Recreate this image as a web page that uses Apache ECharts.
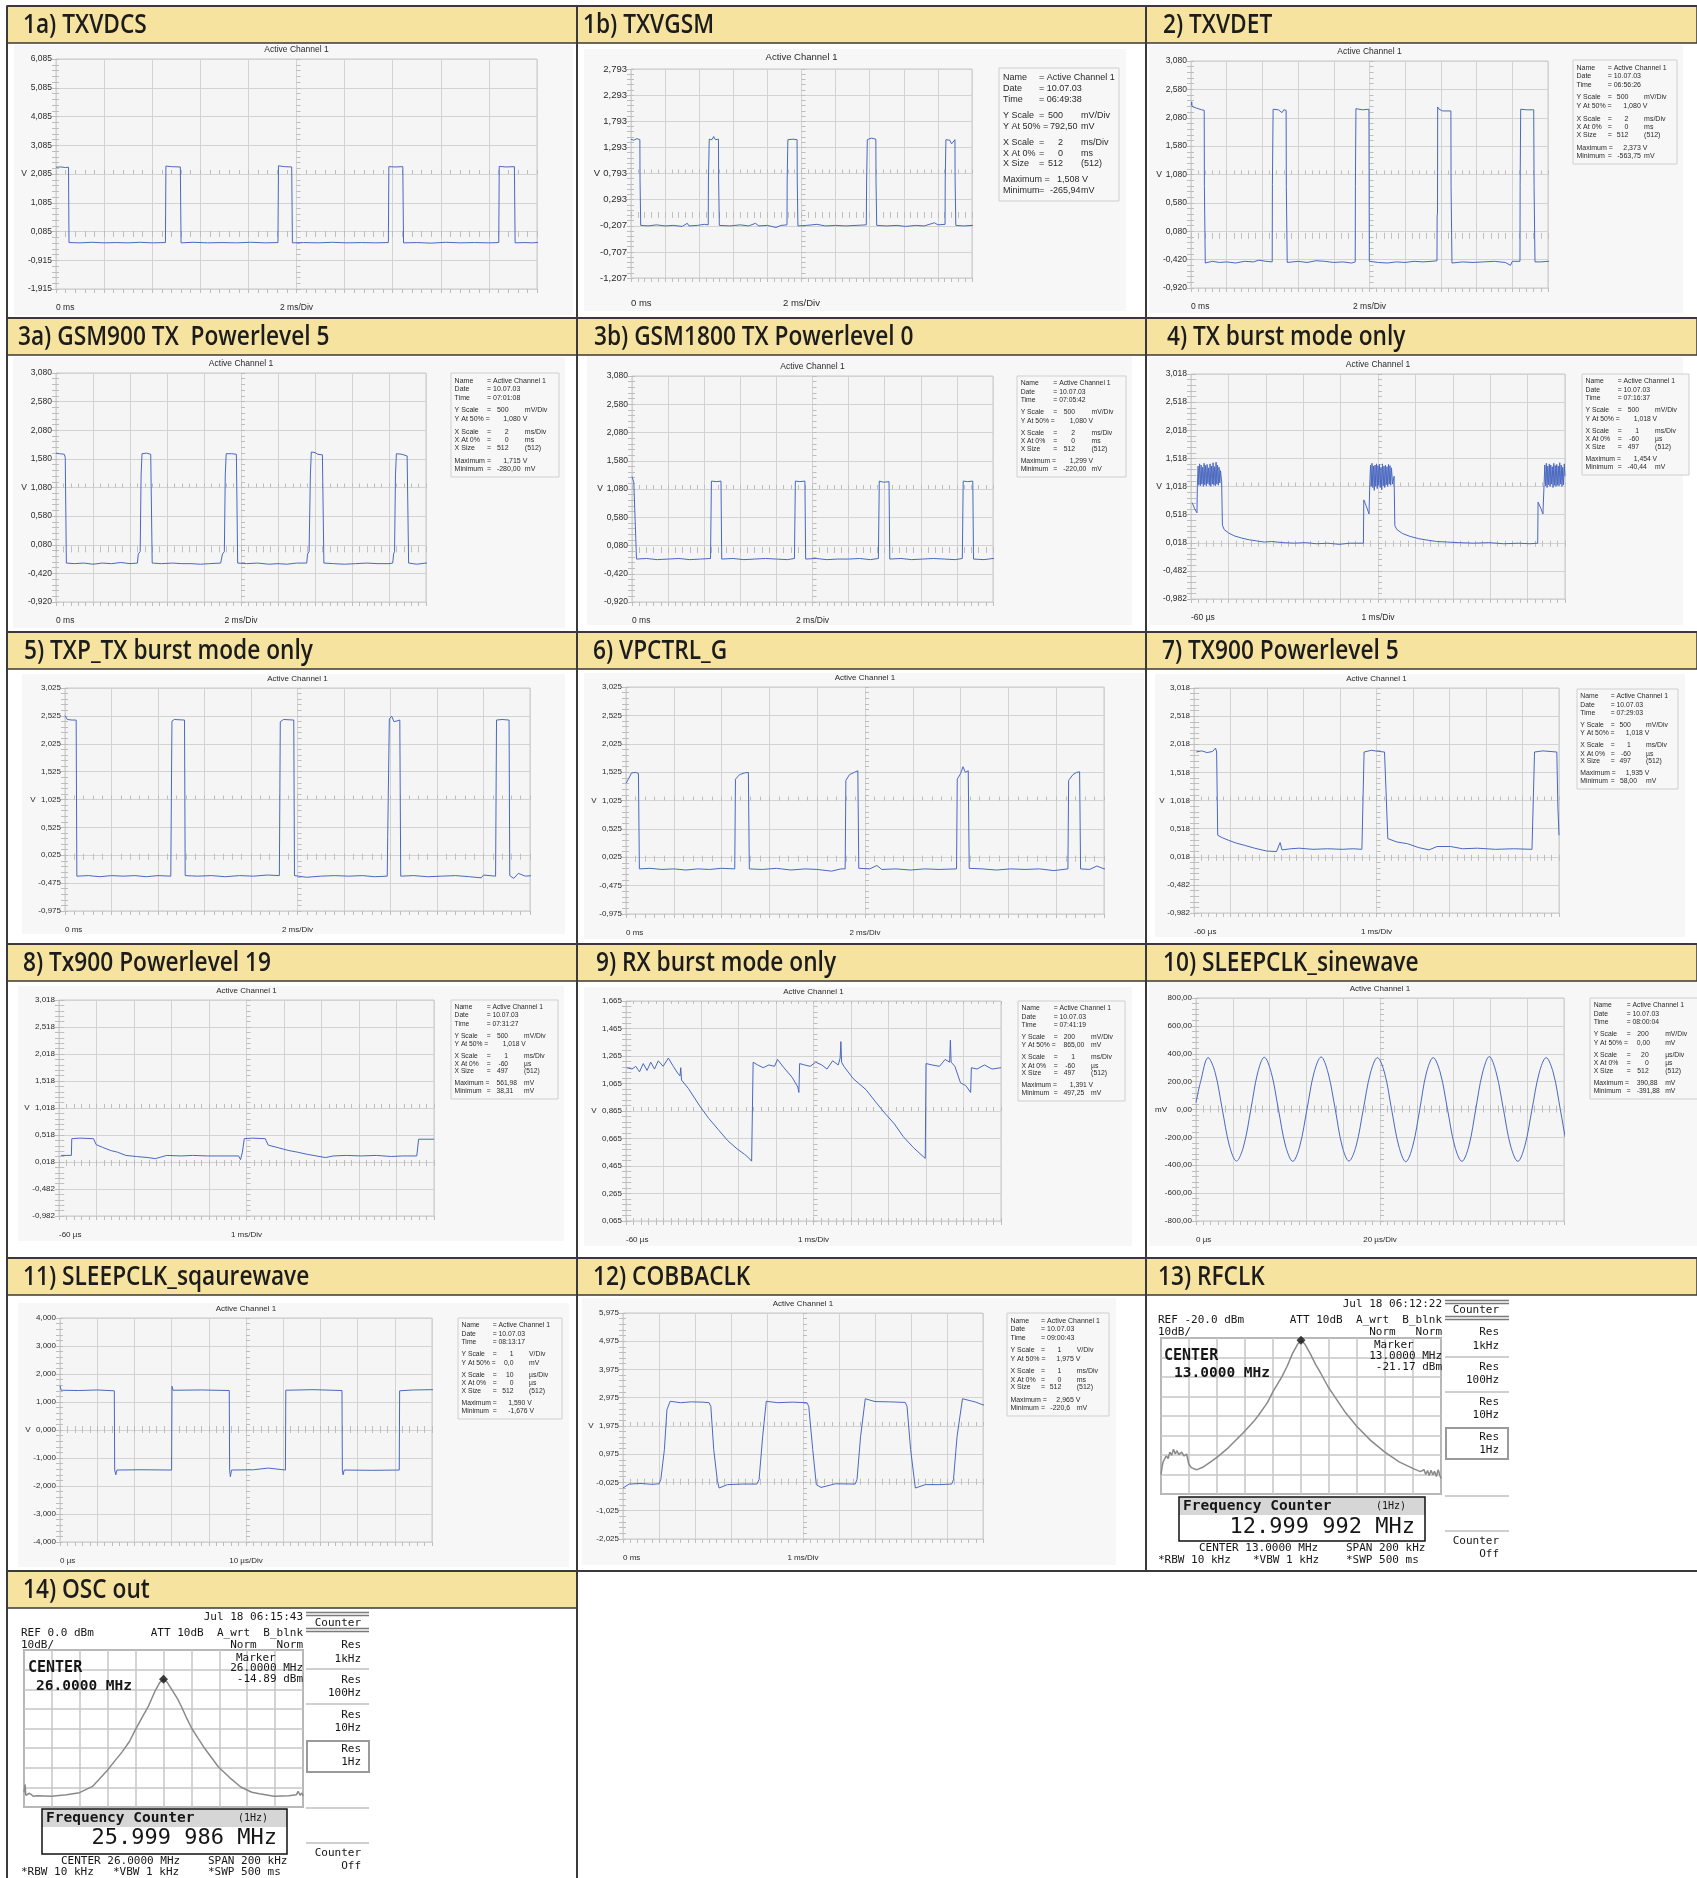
<!DOCTYPE html>
<html>
<head>
<meta charset="utf-8">
<title>Signal measurements</title>
<script src="https://cdn.jsdelivr.net/npm/echarts@6/dist/echarts.min.js"></script>
<style>
  html, body { margin: 0; padding: 0; background: #fff; }
  #chart { width: 1697px; height: 1878px; }
</style>
</head>
<body>
<div id="chart"></div>
<script>
// ---------------- y tick labels ----------------
const yTicks1a = ['-1,915','-0,915','0,085','1,085','2,085','3,085','4,085','5,085','6,085'];
const yTicks1b = ['-1,207','-0,707','-0,207','0,293','0,793','1,293','1,793','2,293','2,793'];
const yTicks080 = ['-0,920','-0,420','0,080','0,580','1,080','1,580','2,080','2,580','3,080'];
const yTicks018 = ['-0,982','-0,482','0,018','0,518','1,018','1,518','2,018','2,518','3,018'];
const yTicks025 = ['-0,975','-0,475','0,025','0,525','1,025','1,525','2,025','2,525','3,025'];
const yTicks9 = ['0,065','0,265','0,465','0,665','0,865','1,065','1,265','1,465','1,665'];
const yTicks10 = ['-800,00','-600,00','-400,00','-200,00','0,00','200,00','400,00','600,00','800,00'];
const yTicks11 = ['-4,000','-3,000','-2,000','-1,000','0,000','1,000','2,000','3,000','4,000'];
const yTicks12 = ['-2,025','-1,025','-0,025','0,975','1,975','2,975','3,975','4,975','5,975'];

// ---------------- info box values ----------------
// time, yScale, unit, yAt50, unit, xScale, unit, xAt0, unit, xSize, (size), max, unit, min, unit
const info1b = ['06:49:38','500','mV/Div','792,50','mV','2','ms/Div','0','ms','512','(512)','1,508 V','','-265,94','mV'];
const info2  = ['06:56:26','500','mV/Div','1,080 V','','2','ms/Div','0','ms','512','(512)','2,373 V','','-563,75','mV'];
const info3a = ['07:01:08','500','mV/Div','1,080 V','','2','ms/Div','0','ms','512','(512)','1,715 V','','-280,00','mV'];
const info3b = ['07:05:42','500','mV/Div','1,080 V','','2','ms/Div','0','ms','512','(512)','1,299 V','','-220,00','mV'];
const info4  = ['07:16:37','500','mV/Div','1,018 V','','1','ms/Div','-60','µs','497','(512)','1,454 V','','-40,44','mV'];
const info7  = ['07:29:03','500','mV/Div','1,018 V','','1','ms/Div','-60','µs','497','(512)','1,935 V','','58,00','mV'];
const info8  = ['07:31:27','500','mV/Div','1,018 V','','1','ms/Div','-60','µs','497','(512)','561,98','mV','38,31','mV'];
const info9  = ['07:41:19','200','mV/Div','865,00','mV','1','ms/Div','-60','µs','497','(512)','1,391 V','','497,25','mV'];
const info10 = ['08:00:04','200','mV/Div','0,00','mV','20','µs/Div','0','µs','512','(512)','390,88','mV','-391,88','mV'];
const info11 = ['08:13:17','1','V/Div','0,0','mV','10','µs/Div','0','µs','512','(512)','1,590 V','','-1,676 V',''];
const info12 = ['09:00:43','1','V/Div','1,975 V','','1','ms/Div','0','ms','512','(512)','2,965 V','','-220,6','mV'];

// ---------------- traces [time, value] ----------------
const txvdcsTrace = [[0,2.32],[0.2,2.33],[0.4,2.31],[0.52,2.32],[0.54,-0.30],[1.0,-0.31],[1.5,-0.29],[2.0,-0.31],[2.5,-0.30],[3.0,-0.31],[3.5,-0.29],[4.0,-0.31],[4.55,-0.30],[4.57,2.36],[4.8,2.34],[5.17,2.33],[5.20,-0.31],[5.7,-0.29],[6.3,-0.31],[6.9,-0.30],[7.5,-0.31],[8.1,-0.29],[8.7,-0.31],[9.23,-0.30],[9.25,2.37],[9.5,2.34],[9.80,2.33],[9.83,-0.31],[10.3,-0.30],[10.9,-0.31],[11.5,-0.29],[12.1,-0.31],[12.7,-0.30],[13.3,-0.31],[13.82,-0.30],[13.84,2.34],[14.1,2.33],[14.42,2.34],[14.45,-0.31],[15.0,-0.30],[15.6,-0.32],[16.2,-0.29],[16.8,-0.31],[17.4,-0.30],[18.0,-0.31],[18.41,-0.30],[18.43,2.35],[18.7,2.33],[19.06,2.34],[19.09,-0.31],[19.5,-0.30],[19.8,-0.31],[20.1,-0.29],[20.5,-0.31]];

const txvgsmTrace = [[0,1.45],[0.15,1.43],[0.35,1.46],[0.52,1.44],[0.53,0.67],[0.56,0.66],[0.57,-0.20],[1.0,-0.21],[1.5,-0.19],[2.0,-0.21],[2.5,-0.20],[3.0,-0.22],[3.3,-0.16],[3.4,-0.21],[3.9,-0.20],[4.3,-0.18],[4.53,-0.19],[4.54,0.67],[4.58,0.68],[4.59,1.45],[4.75,1.44],[4.85,1.50],[4.95,1.44],[5.13,1.45],[5.14,0.67],[5.17,0.66],[5.18,-0.20],[5.8,-0.21],[6.4,-0.19],[6.9,-0.21],[7.3,-0.16],[7.5,-0.21],[8.0,-0.20],[8.5,-0.24],[8.8,-0.20],[9.15,-0.19],[9.16,0.67],[9.19,0.68],[9.20,1.44],[9.5,1.45],[9.74,1.44],[9.75,0.67],[9.78,0.66],[9.79,-0.21],[10.3,-0.20],[10.9,-0.18],[11.4,-0.21],[12.0,-0.20],[12.6,-0.21],[13.2,-0.20],[13.8,-0.19],[13.82,0.67],[13.85,0.68],[13.86,1.44],[14.1,1.47],[14.36,1.45],[14.37,0.67],[14.40,0.66],[14.41,-0.20],[15.0,-0.21],[15.6,-0.20],[16.1,-0.22],[16.7,-0.20],[17.2,-0.21],[17.8,-0.15],[18.0,-0.19],[18.42,-0.18],[18.43,0.67],[18.46,0.68],[18.47,1.44],[18.7,1.43],[18.8,1.36],[19.0,1.44],[19.01,0.67],[19.04,0.66],[19.05,-0.20],[19.5,-0.21],[20.0,-0.20],[20.43,-0.22]];

const txvdetTrace = [[0.02,2.30],[0.04,2.36],[0.06,2.28],[0.3,2.25],[0.6,2.22],[0.74,2.21],[0.75,0.87],[0.78,0.85],[0.80,-0.48],[1.2,-0.45],[1.6,-0.47],[2.0,-0.46],[2.5,-0.48],[3.0,-0.45],[3.5,-0.46],[3.8,-0.43],[4.2,-0.45],[4.55,-0.46],[4.56,0.90],[4.58,0.92],[4.60,2.23],[4.9,2.22],[5.1,2.17],[5.2,2.22],[5.33,2.21],[5.34,0.87],[5.37,0.86],[5.39,-0.47],[6.0,-0.45],[6.5,-0.47],[7.0,-0.44],[7.5,-0.45],[8.0,-0.47],[8.5,-0.46],[9.0,-0.48],[9.20,-0.46],[9.21,0.87],[9.23,0.88],[9.24,2.24],[9.6,2.22],[9.97,2.23],[9.99,-0.45],[10.5,-0.47],[11.0,-0.48],[11.5,-0.46],[12.0,-0.47],[12.5,-0.45],[13.0,-0.46],[13.5,-0.45],[13.78,-0.44],[13.79,0.35],[13.81,0.40],[13.82,2.27],[13.9,2.23],[14.1,2.20],[14.56,2.20],[14.57,0.87],[14.6,0.86],[14.62,-0.48],[15.2,-0.46],[15.8,-0.47],[16.4,-0.46],[17.0,-0.45],[17.6,-0.47],[17.9,-0.52],[18.0,-0.45],[18.43,-0.45],[18.44,0.90],[18.46,0.92],[18.47,2.23],[18.8,2.22],[19.2,2.22],[19.22,0.87],[19.25,0.86],[19.27,-0.46],[19.6,-0.46],[20.0,-0.45],[20.44,-0.44]];

const gsm900Trace = [[0,1.68],[0.2,1.67],[0.45,1.66],[0.5,1.6],[0.56,-0.24],[1.0,-0.25],[1.5,-0.24],[2.0,-0.26],[2.5,-0.24],[3.0,-0.25],[3.5,-0.23],[4.0,-0.25],[4.4,-0.24],[4.45,-0.08],[4.55,-0.04],[4.6,1.3],[4.65,1.67],[4.9,1.68],[5.12,1.66],[5.2,-0.24],[5.7,-0.25],[6.3,-0.24],[6.8,-0.25],[7.3,-0.25],[7.8,-0.26],[8.3,-0.25],[8.9,-0.24],[9.0,-0.08],[9.1,-0.04],[9.15,1.30],[9.2,1.67],[9.5,1.67],[9.75,1.66],[9.82,-0.24],[10.3,-0.25],[10.9,-0.24],[11.5,-0.26],[12.0,-0.25],[12.5,-0.26],[13.0,-0.24],[13.55,-0.24],[13.6,-0.08],[13.68,-0.04],[13.75,1.3],[13.8,1.70],[14.0,1.69],[14.15,1.66],[14.4,1.65],[14.48,-0.24],[15.0,-0.25],[15.6,-0.26],[16.2,-0.25],[16.8,-0.24],[17.4,-0.25],[18.0,-0.25],[18.2,-0.24],[18.25,-0.08],[18.3,-0.04],[18.35,1.3],[18.4,1.67],[18.7,1.66],[18.98,1.63],[19.06,-0.24],[19.5,-0.26],[20.0,-0.24],[20.44,-0.23]];

const gsm1800Trace = [[0,1.30],[0.1,1.2],[0.2,1.22],[0.25,-0.16],[0.8,-0.15],[1.4,-0.17],[2.0,-0.16],[2.6,-0.15],[3.2,-0.17],[3.8,-0.16],[4.35,-0.15],[4.4,1.22],[4.7,1.21],[4.93,1.22],[4.97,-0.16],[5.6,-0.15],[6.2,-0.17],[6.8,-0.16],[7.4,-0.15],[8.0,-0.16],[8.6,-0.17],[9.0,-0.15],[9.05,1.22],[9.3,1.21],[9.58,1.22],[9.62,-0.16],[10.2,-0.15],[10.8,-0.17],[11.4,-0.16],[12.0,-0.16],[12.6,-0.15],[13.2,-0.17],[13.65,-0.15],[13.7,1.22],[13.95,1.20],[14.24,1.21],[14.28,-0.16],[14.9,-0.15],[15.5,-0.17],[16.1,-0.16],[16.7,-0.15],[17.3,-0.16],[17.9,-0.17],[18.3,-0.15],[18.35,1.22],[18.6,1.21],[18.88,1.22],[18.92,-0.16],[19.5,-0.17],[20.0,-0.15],[20.4,-0.16]];

const txBurstTrace = [[-0.03,0.73],[0.04,0.62],[0.10,0.55],[0.11,1.02],[0.13,1.38],[0.15,1.05],[0.17,1.42],[0.19,1.03],[0.21,1.40],[0.23,1.06],[0.25,1.36],[0.27,1.02],[0.29,1.43],[0.31,1.05],[0.33,1.39],[0.35,1.03],[0.37,1.41],[0.39,1.07],[0.41,1.35],[0.43,1.04],[0.45,1.42],[0.47,1.02],[0.49,1.38],[0.51,1.06],[0.53,1.44],[0.55,1.05],[0.57,1.37],[0.59,1.03],[0.61,1.45],[0.63,1.06],[0.65,1.40],[0.67,1.04],[0.69,1.36],[0.71,1.08],[0.73,1.30],[0.76,1.10],[0.78,0.33],[0.83,0.25],[0.95,0.19],[1.1,0.14],[1.3,0.10],[1.5,0.07],[1.7,0.05],[1.9,0.03],[2.1,0.04],[2.4,0.02],[2.7,0.01],[3.0,0.02],[3.3,0.00],[3.6,0.01],[3.9,-0.01],[4.2,0.01],[4.55,0.01],[4.56,0.78],[4.62,0.68],[4.70,0.53],[4.72,1.05],[4.74,1.40],[4.76,1.02],[4.78,1.43],[4.80,1.00],[4.82,1.38],[4.84,0.95],[4.86,1.40],[4.88,1.02],[4.90,1.42],[4.92,0.98],[4.94,1.39],[4.96,1.04],[4.98,1.41],[5.00,1.00],[5.02,1.36],[5.04,0.96],[5.06,1.42],[5.08,1.03],[5.10,1.38],[5.12,1.00],[5.14,1.40],[5.16,1.05],[5.18,1.37],[5.20,1.02],[5.22,1.41],[5.24,1.06],[5.26,1.39],[5.28,1.04],[5.30,1.35],[5.33,1.06],[5.37,1.20],[5.39,0.32],[5.45,0.25],[5.6,0.18],[5.8,0.13],[6.03,0.09],[6.3,0.06],[6.51,0.04],[6.8,0.03],[7.1,0.02],[7.5,0.01],[7.9,0.02],[8.3,0.00],[8.7,0.01],[9.0,0.00],[9.21,0.01],[9.22,0.74],[9.3,0.62],[9.35,0.53],[9.38,1.05],[9.40,1.40],[9.42,1.03],[9.44,1.43],[9.46,1.00],[9.48,1.38],[9.50,1.05],[9.52,1.42],[9.54,1.02],[9.56,1.40],[9.58,1.06],[9.60,1.37],[9.62,1.00],[9.64,1.43],[9.66,1.04],[9.68,1.39],[9.70,1.02],[9.72,1.41],[9.74,1.05],[9.76,1.38],[9.78,1.03],[9.80,1.44],[9.82,1.06],[9.84,1.40],[9.86,1.02],[9.88,1.36],[9.90,1.05],[9.92,1.42],[9.94,1.20]];

const txpTrace = [[0,2.53],[0.1,2.46],[0.3,2.45],[0.48,2.45],[0.51,-0.35],[1.0,-0.34],[1.5,-0.36],[2.0,-0.34],[2.5,-0.35],[3.0,-0.34],[3.5,-0.36],[4.0,-0.34],[4.55,-0.35],[4.6,2.43],[4.7,2.46],[5.14,2.45],[5.17,-0.34],[5.7,-0.35],[6.3,-0.34],[6.9,-0.36],[7.5,-0.34],[8.1,-0.35],[8.7,-0.33],[9.22,-0.34],[9.26,2.42],[9.4,2.46],[9.84,2.45],[9.87,-0.34],[10.4,-0.37],[11.0,-0.35],[11.6,-0.34],[12.2,-0.35],[12.8,-0.34],[13.3,-0.36],[13.86,-0.35],[13.88,0.36],[13.93,0.36],[13.95,2.47],[14.05,2.52],[14.15,2.42],[14.40,2.45],[14.42,1.05],[14.44,-0.35],[15.0,-0.34],[15.6,-0.36],[16.2,-0.35],[16.8,-0.34],[17.4,-0.36],[17.9,-0.38],[18.0,-0.33],[18.52,-0.35],[18.56,2.45],[18.8,2.46],[19.1,2.45],[19.13,-0.34],[19.3,-0.39],[19.5,-0.30],[19.8,-0.35],[20.1,-0.34],[20.47,-0.35]];

const vpctrlTrace = [[0,1.33],[0.1,1.40],[0.23,1.51],[0.41,1.52],[0.52,1.50],[0.56,-0.18],[1.0,-0.17],[1.5,-0.19],[2.0,-0.18],[2.5,-0.20],[3.0,-0.18],[3.5,-0.19],[4.0,-0.17],[4.55,-0.18],[4.58,1.40],[4.75,1.48],[4.95,1.51],[5.12,1.52],[5.16,-0.18],[5.7,-0.19],[6.3,-0.17],[6.9,-0.20],[7.5,-0.18],[8.0,-0.19],[8.6,-0.22],[9.0,-0.18],[9.17,-0.18],[9.2,1.38],[9.35,1.48],[9.55,1.52],[9.7,1.55],[9.74,-0.17],[10.2,-0.18],[10.5,-0.12],[10.7,-0.19],[11.3,-0.18],[11.9,-0.20],[12.5,-0.18],[13.1,-0.19],[13.83,-0.18],[13.86,1.40],[14.0,1.50],[14.1,1.62],[14.2,1.52],[14.32,1.55],[14.36,-0.17],[14.9,-0.18],[15.5,-0.20],[16.1,-0.18],[16.7,-0.19],[17.3,-0.18],[17.9,-0.21],[18.49,-0.18],[18.52,1.38],[18.7,1.48],[18.85,1.52],[18.98,1.53],[19.02,-0.18],[19.4,-0.19],[19.7,-0.13],[20.0,-0.18],[20.3,-0.17],[20.45,-0.10]];

const tx900p5Trace = [[0.0,1.88],[0.15,1.90],[0.3,1.87],[0.45,1.89],[0.50,1.88],[0.53,1.95],[0.56,1.88],[0.59,0.40],[0.7,0.36],[0.89,0.31],[1.1,0.26],[1.33,0.22],[1.6,0.17],[1.93,0.12],[2.2,0.11],[2.3,0.27],[2.35,0.14],[2.6,0.16],[2.82,0.17],[3.2,0.15],[3.6,0.16],[4.0,0.15],[4.3,0.16],[4.54,0.15],[4.60,1.88],[4.8,1.91],[5.0,1.89],[5.16,1.88],[5.20,1.20],[5.25,0.34],[5.5,0.28],[5.79,0.25],[6.1,0.18],[6.38,0.14],[6.6,0.20],[6.97,0.20],[7.3,0.16],[7.7,0.17],[8.2,0.15],[8.7,0.16],[9.2,0.15],[9.27,1.88],[9.5,1.90],[9.88,1.88],[9.91,0.9],[9.94,0.40]];

const tx900p19Trace = [[-0.01,0.14],[0.27,0.14],[0.28,0.45],[0.5,0.46],[0.86,0.45],[0.93,0.34],[1.1,0.29],[1.32,0.23],[1.5,0.2],[1.72,0.14],[2.0,0.12],[2.31,0.10],[2.51,0.08],[2.81,0.14],[3.2,0.13],[3.5,0.14],[3.9,0.13],[4.2,0.13],[4.73,0.13],[4.78,0.06],[4.83,0.2],[4.88,0.45],[5.1,0.46],[5.44,0.45],[5.52,0.33],[5.8,0.28],[6.07,0.23],[6.3,0.20],[6.56,0.16],[7.05,0.10],[7.25,0.13],[7.6,0.14],[8.0,0.13],[8.4,0.14],[8.8,0.12],[9.1,0.13],[9.48,0.13],[9.53,0.44],[9.94,0.44]];

const rxBurstTrace = [[-0.04,1.18],[0.1,1.17],[0.2,1.19],[0.3,1.15],[0.4,1.21],[0.5,1.16],[0.6,1.22],[0.7,1.17],[0.8,1.23],[0.93,1.19],[1.07,1.25],[1.2,1.19],[1.32,1.14],[1.38,1.12],[1.40,1.18],[1.42,1.09],[1.6,1.03],[1.91,0.90],[2.15,0.81],[2.40,0.73],[2.65,0.65],[2.90,0.59],[3.1,0.55],[3.19,0.53],[3.29,0.50],[3.32,0.50],[3.33,1.22],[3.45,1.20],[3.6,1.18],[3.75,1.20],[3.9,1.19],[3.98,1.24],[4.15,1.18],[4.37,1.11],[4.52,1.04],[4.55,1.00],[4.57,1.21],[4.7,1.20],[4.85,1.19],[5.0,1.22],[5.16,1.20],[5.3,1.17],[5.45,1.23],[5.6,1.20],[5.65,1.25],[5.67,1.37],[5.69,1.22],[5.75,1.19],[6.0,1.10],[6.34,1.02],[6.6,0.93],[6.84,0.85],[7.1,0.77],[7.33,0.68],[7.6,0.60],[7.92,0.52],[7.94,1.21],[8.1,1.20],[8.3,1.19],[8.45,1.24],[8.57,1.22],[8.59,1.38],[8.61,1.22],[8.71,1.19],[8.86,1.07],[9.0,1.05],[9.13,1.00],[9.15,1.18],[9.3,1.17],[9.5,1.20],[9.7,1.17],[9.94,1.18]];

const sleepSineTrace = [[0,50],[2.5,200],[6.6,372],[10.4,265],[14.3,0],[18.2,-262],[22.0,-370],[25.9,-262],[29.8,0],[33.5,262],[37.1,375],[40.9,265],[44.8,0],[48.7,-262],[52.6,-372],[56.4,-262],[60.3,0],[64.1,262],[68.0,377],[71.8,262],[75.7,0],[79.4,-262],[83.1,-370],[87.0,-262],[90.9,0],[94.8,262],[98.6,372],[102.5,262],[106.3,0],[110.2,-262],[114.0,-375],[117.8,-262],[121.6,0],[125.2,262],[128.9,372],[132.8,262],[136.7,0],[140.6,-262],[144.5,-372],[148.3,-262],[152.0,0],[155.7,262],[159.4,380],[163.2,262],[167.1,0],[171.0,-262],[174.9,-372],[178.7,-262],[182.6,0],[186.5,262],[190.3,372],[194.2,262],[198.0,0],[201.5,-250],[204.2,-355]];

const sleepSquareTrace = [[0,1.59],[0.3,1.42],[5,1.41],[10,1.43],[14.6,1.40],[14.7,-1.43],[15.0,-1.60],[15.3,-1.43],[22,-1.42],[30.0,-1.43],[30.1,1.56],[30.4,1.42],[38,1.43],[45.5,1.41],[45.6,-1.43],[45.8,-1.67],[46.1,-1.43],[52,-1.42],[56,-1.36],[56.3,-1.43],[60.6,-1.43],[60.7,1.42],[68,1.44],[75.8,1.41],[75.9,-1.43],[76.1,-1.60],[76.4,-1.43],[84,-1.44],[91.2,-1.43],[91.3,1.40],[95,1.43],[100,1.44],[102,1.42]];

const cobbaTrace = [[0,-0.22],[0.17,-0.08],[0.5,-0.06],[0.8,-0.09],[1.0,-0.07],[1.05,0.08],[1.15,1.14],[1.22,2.55],[1.31,2.85],[1.6,2.80],[1.9,2.83],[2.2,2.82],[2.39,2.80],[2.44,2.67],[2.52,1.14],[2.62,0.05],[2.67,-0.22],[2.9,-0.10],[3.3,-0.08],[3.72,-0.08],[3.78,0.08],[3.88,1.61],[3.98,2.85],[4.3,2.80],[4.7,2.82],[5.11,2.80],[5.16,2.67],[5.27,1.14],[5.37,-0.10],[5.5,-0.20],[5.9,-0.07],[6.45,-0.08],[6.50,0.08],[6.60,1.61],[6.73,2.94],[7.0,2.84],[7.4,2.83],[7.84,2.81],[7.89,2.67],[7.99,1.14],[8.12,-0.22],[8.4,-0.10],[8.8,-0.10],[9.13,-0.08],[9.18,0.08],[9.28,1.61],[9.43,2.94],[9.8,2.82],[10.0,2.72],[10.21,2.79]];

// spectrum analyser traces [MHz, dBm]
const rfclkTrace = [[12.9,-90.1],[12.9008,-86],[12.9015,-83.5],[12.9025,-84.5],[12.9038,-80.5],[12.9051,-81.8],[12.9063,-78.5],[12.9076,-80.2],[12.9089,-77],[12.9102,-79.5],[12.9114,-77.8],[12.9127,-79.8],[12.9147,-78.5],[12.9165,-80.5],[12.9183,-79.5],[12.9198,-84.5],[12.9216,-86.5],[12.9254,-87.6],[12.9305,-86],[12.9355,-83.5],[12.9406,-80.8],[12.9482,-76.2],[12.9584,-68.8],[12.966,-63],[12.9698,-59.5],[12.9761,-53],[12.9799,-47.6],[12.9863,-39.9],[12.9901,-34.5],[12.9939,-28],[12.9977,-23],[13.0003,-21.2],[13.0028,-23.2],[13.0066,-28],[13.0104,-33.5],[13.0142,-38.2],[13.0193,-45],[13.0231,-49],[13.032,-58.5],[13.0401,-65.5],[13.0497,-72.5],[13.0599,-78.5],[13.0701,-83.5],[13.0802,-87],[13.0853,-88.5],[13.0878,-87.5],[13.0891,-90],[13.0904,-88],[13.0916,-90.5],[13.0929,-87.8],[13.0942,-90.2],[13.0954,-88.3],[13.0967,-91],[13.098,-87.5],[13.0992,-90.5],[13.1,-92]];
const rfclkPeak = [[13.0, -21.17]];

const oscTrace = [[25.9,-72.5],[25.9008,-68.5],[25.9013,-74],[25.904,-73],[25.9066,-74.5],[25.9093,-74.3],[25.9199,-74.5],[25.9305,-73.8],[25.9398,-72.7],[25.9491,-69.5],[25.9598,-61.3],[25.9651,-56.5],[25.9704,-51.9],[25.9757,-46.5],[25.9797,-40.8],[25.985,-34],[25.989,-28.9],[25.9943,-20.4],[25.9974,-16.5],[26.0001,-14.9],[26.0027,-16.5],[26.0062,-20.4],[26.0102,-25],[26.0129,-28.9],[26.0168,-35],[26.0203,-40],[26.0248,-45],[26.0288,-49.4],[26.0341,-54.5],[26.0394,-59.6],[26.0474,-65],[26.0554,-69.8],[26.0633,-72.5],[26.0687,-73.2],[26.0793,-74.5],[26.0899,-74.3],[26.0952,-73.8],[26.0965,-72],[26.0979,-74],[26.0992,-72.8],[26.1,-74.5]];
const oscPeak = [[26.0, -14.89]];

// ---------------- page layout ----------------
const COLS = [7, 577, 1146, 1697];
const ROWS = [6, 318, 632, 944, 1258, 1571, 1878];
const HEAD_H = 37;
const HEAD_FILL = '#f6e39f';
const LINE_C = '#3a3a3a';
const GRID_C = '#d3d3d3';
const TICK_C = '#bdbdbd';
const TRACE_C = '#4a68c0';
const SCOPE_FONT = '"Liberation Sans", Arial, sans-serif';
const MONO_FONT = '"DejaVu Sans Mono", "Liberation Mono", monospace';

const headers = [
  ['1a) TXVDCS', 0, 0, 23], ['1b) TXVGSM', 1, 0, 583], ['2) TXVDET', 2, 0, 1163],
  ['3a) GSM900 TX  Powerlevel 5', 0, 1, 18], ['3b) GSM1800 TX Powerlevel 0', 1, 1, 594], ['4) TX burst mode only', 2, 1, 1167],
  ['5) TXP_TX burst mode only', 0, 2, 24], ['6) VPCTRL_G', 1, 2, 593], ['7) TX900 Powerlevel 5', 2, 2, 1162],
  ['8) Tx900 Powerlevel 19', 0, 3, 23], ['9) RX burst mode only', 1, 3, 596], ['10) SLEEPCLK_sinewave', 2, 3, 1163],
  ['11) SLEEPCLK_sqaurewave', 0, 4, 23], ['12) COBBACLK', 1, 4, 593], ['13) RFCLK', 2, 4, 1158],
  ['14) OSC out', 0, 5, 23]
];

// oscilloscope captures: box = grey panel, plot = [left, top, right, bottom], info = info box rect
const scopes = [
  { box:[14,45,573,315], plot:[56,59,537,289], yMin:-1.915, yStep:1, yTicks:yTicks1a, unit:'V', xMin:0, xStep:2, x0:'0 ms', div:'2 ms/Div', trace:txvdcsTrace, fs:8.5 },
  { box:[584,49,1126,311], plot:[631,69,972,278], yMin:-1.207, yStep:0.5, yTicks:yTicks1b, unit:'V', xMin:0, xStep:2, x0:'0 ms', div:'2 ms/Div', trace:txvgsmTrace, fs:9.5, infoBox:[999,68,1119,201], info:info1b, titleDy:-12, xlDy:25 },
  { box:[1149,45,1683,313], plot:[1191,61,1548,288], yMin:-0.92, yStep:0.5, yTicks:yTicks080, unit:'V', xMin:0, xStep:2, x0:'0 ms', div:'2 ms/Div', trace:txvdetTrace, fs:8.5, infoBox:[1573,60,1677,164], info:info2 },
  { box:[13,357,565,628], plot:[56,373,426,602], yMin:-0.92, yStep:0.5, yTicks:yTicks080, unit:'V', xMin:0, xStep:2, x0:'0 ms', div:'2 ms/Div', trace:gsm900Trace, fs:8.5, infoBox:[451,373,559,477], info:info3a },
  { box:[587,356,1132,625], plot:[632,376,993,602], yMin:-0.92, yStep:0.5, yTicks:yTicks080, unit:'V', xMin:0, xStep:2, x0:'0 ms', div:'2 ms/Div', trace:gsm1800Trace, fs:8.5, infoBox:[1017,376,1126,477], info:info3b },
  { box:[1149,357,1683,625], plot:[1191,374,1565,599], yMin:-0.982, yStep:0.5, yTicks:yTicks018, unit:'V', xMin:-0.06, xStep:1, x0:'-60 µs', div:'1 ms/Div', trace:txBurstTrace, fs:8.5, infoBox:[1582,374,1689,475], info:info4 },
  { box:[22,674,565,934], plot:[65,688,530,911], yMin:-0.975, yStep:0.5, yTicks:yTicks025, unit:'V', xMin:0, xStep:2, x0:'0 ms', div:'2 ms/Div', trace:txpTrace, fs:8 },
  { box:[584,673,1144,939], plot:[626,687,1104,914], yMin:-0.975, yStep:0.5, yTicks:yTicks025, unit:'V', xMin:0, xStep:2, x0:'0 ms', div:'2 ms/Div', trace:vpctrlTrace, fs:8 },
  { box:[1155,674,1685,937], plot:[1194,688,1559,913], yMin:-0.982, yStep:0.5, yTicks:yTicks018, unit:'V', xMin:-0.06, xStep:1, x0:'-60 µs', div:'1 ms/Div', trace:tx900p5Trace, fs:8, infoBox:[1577,689,1678,789], info:info7 },
  { box:[18,986,564,1241], plot:[59,1000,434,1216], yMin:-0.982, yStep:0.5, yTicks:yTicks018, unit:'V', xMin:-0.06, xStep:1, x0:'-60 µs', div:'1 ms/Div', trace:tx900p19Trace, fs:8, infoBox:[451,1000,558,1099], info:info8 },
  { box:[584,987,1132,1246], plot:[626,1001,1001,1221], yMin:0.065, yStep:0.2, yTicks:yTicks9, unit:'V', xMin:-0.06, xStep:1, x0:'-60 µs', div:'1 ms/Div', trace:rxBurstTrace, fs:8, infoBox:[1018,1001,1125,1101], info:info9 },
  { box:[1149,982,1697,1246], plot:[1196,998,1564,1221], yMin:-800, yStep:200, yTicks:yTicks10, unit:'mV', xMin:0, xStep:20, x0:'0 µs', div:'20 µs/Div', trace:sleepSineTrace, fs:8, infoBox:[1590,998,1700,1099], info:info10, smooth:0.35 },
  { box:[18,1303,569,1567], plot:[60,1318,432,1542], yMin:-4, yStep:1, yTicks:yTicks11, unit:'V', xMin:0, xStep:10, x0:'0 µs', div:'10 µs/Div', trace:sleepSquareTrace, fs:8, infoBox:[458,1318,562,1419], info:info11 },
  { box:[582,1298,1116,1565], plot:[623,1313,983,1539], yMin:-2.025, yStep:1, yTicks:yTicks12, unit:'V', xMin:0, xStep:1, x0:'0 ms', div:'1 ms/Div', trace:cobbaTrace, fs:8, infoBox:[1007,1313,1109,1416], info:info12 }
];

// spectrum analyser screens
const spectra = [
  { grid:[1161,1338,1441,1494], xMin:12.9, xMax:13.1, yMin:-100, yMax:-20, trace:rfclkTrace, peak:rfclkPeak,
    menu:{ x0:1445, x1:1509, tx:1499, top:[1302,1318], seps:[1357,1392,1496,1531], sel:[1446,1428,1508,1459] },
    counter:[1179,1497,1425,1541,1515],
    texts:[
      ['Jul 18 06:12:22',1442,1304,'right',11],['Counter',1499,1310,'right',11],
      ['REF -20.0 dBm',1158,1320,'left',11],['ATT 10dB  A_wrt  B_blnk',1442,1320,'right',11],
      ['10dB/',1158,1332,'left',11],['Norm   Norm',1442,1332,'right',11],
      ['CENTER',1164,1356,'left',15,'bold'],['13.0000 MHz',1174,1373,'left',14.5,'bold'],
      ['Marker',1374,1345,'left',11],['13.0000 MHz',1442,1356,'right',11],['-21.17 dBm',1442,1367,'right',11],
      ['Res',1499,1332,'right',11],['1kHz',1499,1346,'right',11],['Res',1499,1367,'right',11],['100Hz',1499,1380,'right',11],
      ['Res',1499,1402,'right',11],['10Hz',1499,1415,'right',11],['Res',1499,1437,'right',11],['1Hz',1499,1450,'right',11],
      ['Counter',1499,1541,'right',11],['Off',1499,1554,'right',11],
      ['Frequency Counter',1183,1506,'left',14.5,'bold'],['(1Hz)',1376,1506,'left',10],
      ['12.999 992 MHz',1415,1527,'right',22],
      ['CENTER 13.0000 MHz',1199,1548,'left',11],['SPAN 200 kHz',1346,1548,'left',11],
      ['*RBW 10 kHz',1158,1560,'left',11],['*VBW 1 kHz',1253,1560,'left',11],['*SWP 500 ms',1346,1560,'left',11]
    ] },
  { grid:[24,1650,303,1807], xMin:25.9, xMax:26.1, yMin:-80, yMax:0, trace:oscTrace, peak:oscPeak,
    menu:{ x0:306, x1:369, tx:361, top:[1614,1630], seps:[1669,1704,1808,1843], sel:[307,1741,369,1772] },
    counter:[42,1809,287,1854,1827],
    texts:[
      ['Jul 18 06:15:43',303,1617,'right',11],['Counter',361,1623,'right',11],
      ['REF 0.0 dBm',21,1633,'left',11],['ATT 10dB  A_wrt  B_blnk',303,1633,'right',11],
      ['10dB/',21,1645,'left',11],['Norm   Norm',303,1645,'right',11],
      ['CENTER',28,1668,'left',15,'bold'],['26.0000 MHz',36,1686,'left',14.5,'bold'],
      ['Marker',236,1658,'left',11],['26.0000 MHz',303,1668,'right',11],['-14.89 dBm',303,1679,'right',11],
      ['Res',361,1645,'right',11],['1kHz',361,1659,'right',11],['Res',361,1680,'right',11],['100Hz',361,1693,'right',11],
      ['Res',361,1715,'right',11],['10Hz',361,1728,'right',11],['Res',361,1749,'right',11],['1Hz',361,1762,'right',11],
      ['Counter',361,1853,'right',11],['Off',361,1866,'right',11],
      ['Frequency Counter',46,1818,'left',14.5,'bold'],['(1Hz)',238,1818,'left',10],
      ['25.999 986 MHz',277,1838,'right',22],
      ['CENTER 26.0000 MHz',61,1861,'left',11],['SPAN 200 kHz',208,1861,'left',11],
      ['*RBW 10 kHz',21,1872,'left',11],['*VBW 1 kHz',113,1872,'left',11],['*SWP 500 ms',208,1872,'left',11]
    ] }
];

// ---------------- option building ----------------
const grids = [], xAxes = [], yAxes = [], series = [], gfx = [];

function txt(text, x, y, align, size, family, weight, color, extra) {
  const el = { type: 'text', x: x, y: y, z: 100, silent: true,
    style: { text: text, fill: color || '#222', font: (weight || 'normal') + ' ' + size + 'px ' + family,
      textAlign: align, textVerticalAlign: 'middle' } };
  return Object.assign(el, extra || {});
}
function rect(x0, y0, x1, y1, fill, stroke, lw, z) {
  return { type: 'rect', z: z, silent: true, shape: { x: x0, y: y0, width: x1 - x0, height: y1 - y0 },
    style: { fill: fill, stroke: stroke || null, lineWidth: lw || 0 } };
}
function line(x1, y1, x2, y2, color, lw, z) {
  return { type: 'line', z: z || 50, silent: true, shape: { x1: x1, y1: y1, x2: x2, y2: y2 }, style: { stroke: color, lineWidth: lw } };
}

function ticks(len, showSplit) {
  return {
    axisLine: { show: false },
    axisLabel: { show: false },
    splitLine: { show: !!showSplit, lineStyle: { color: GRID_C, width: 1 } },
    axisTick: { show: true, inside: true, length: len, lineStyle: { color: TICK_C } },
    minorTick: { show: true, splitNumber: 5, length: len, lineStyle: { color: TICK_C } }
  };
}

function addScope(p) {
  const [L, T, R, B] = p.plot;
  const W = R - L, H = B - T;
  const xMax = p.xMin + 10 * p.xStep, yMax = p.yMin + 8 * p.yStep;
  const g = grids.length;
  const gb = { outerBoundsMode: 'none' };
  grids.push(
    Object.assign({ left: L, top: T, width: W, height: H, show: true, backgroundColor: '#f5f5f5', borderColor: '#c8c8c8', borderWidth: 1 }, gb),
    Object.assign({ left: L, top: T, width: W, height: H / 2 }, gb),
    Object.assign({ left: L, top: T + H / 2, width: W, height: H / 2 }, gb),
    Object.assign({ left: L, top: T, width: W / 2, height: H }, gb),
    Object.assign({ left: L + W / 2, top: T, width: W / 2, height: H }, gb)
  );
  const xr = { type: 'value', min: p.xMin, max: xMax, interval: p.xStep };
  const yr = { type: 'value', min: p.yMin, max: yMax, interval: p.yStep };
  const xi = xAxes.length, yi = yAxes.length;
  xAxes.push(
    Object.assign({}, xr, ticks(3, true), { gridIndex: g, position: 'bottom' }),
    Object.assign({}, xr, ticks(3), { gridIndex: g, position: 'top' }),
    Object.assign({}, xr, ticks(4), { gridIndex: g + 1, position: 'bottom' }),
    Object.assign({}, xr, ticks(4), { gridIndex: g + 2, position: 'top' }),
    { type: 'value', gridIndex: g + 3, show: false },
    { type: 'value', gridIndex: g + 4, show: false }
  );
  const labels = p.yTicks;
  const yMain = Object.assign({}, yr, ticks(3, true), { gridIndex: g, position: 'left' });
  yMain.axisLabel = { show: true, margin: 4, color: '#2a2a2a', fontSize: p.fs, fontFamily: SCOPE_FONT,
    formatter: function (v, i) { return i < labels.length ? labels[i] : ''; } };
  yAxes.push(
    yMain,
    Object.assign({}, yr, ticks(3), { gridIndex: g, position: 'right' }),
    { type: 'value', gridIndex: g + 1, show: false },
    { type: 'value', gridIndex: g + 2, show: false },
    Object.assign({}, yr, ticks(4), { gridIndex: g + 3, position: 'right' }),
    Object.assign({}, yr, ticks(4), { gridIndex: g + 4, position: 'left' })
  );
  series.push({
    type: 'line', xAxisIndex: xi, yAxisIndex: yi, data: p.trace, showSymbol: false, symbol: 'none',
    smooth: p.smooth || false, clip: false, silent: true, z: 5,
    lineStyle: { color: TRACE_C, width: 1 }
  });

  // grey screenshot panel and its texts
  gfx.push(rect(p.box[0], p.box[1], p.box[2], p.box[3], '#f7f7f7', null, 0, -20));
  const cx = L + W / 2;
  gfx.push(txt('Active Channel 1', cx, T + (p.titleDy || -9), 'center', p.fs, SCOPE_FONT, 'normal', '#2a2a2a'));
  const ux = p.unit === 'V' ? (p.fs >= 9.5 ? 34 : 32) : 35;
  gfx.push(txt(p.unit, L - ux, T + H / 2, 'center', p.fs, SCOPE_FONT, 'normal', '#2a2a2a'));
  const xy = B + (p.xlDy || 19);
  gfx.push(txt(p.x0, L, xy, 'left', p.fs, SCOPE_FONT, 'normal', '#2a2a2a'));
  gfx.push(txt(p.div, cx, xy, 'center', p.fs, SCOPE_FONT, 'normal', '#2a2a2a'));

  if (p.infoBox) addInfo(p.infoBox, p.info);
}

function addInfo(b, d) {
  const [x0, y0, x1, y1] = b;
  const sx = (x1 - x0) / 120, sy = (y1 - y0) / 133;
  const fs = Math.round(9 * sy * 10) / 10;
  gfx.push(rect(x0, y0, x1, y1, '#f7f7f7', '#cfcfcf', 1, -10));
  const rows = [
    ['Name', '= Active Channel 1'], ['Date', '= 10.07.03'], ['Time', '= ' + d[0]],
    ['Y Scale', '=', d[1], d[2]], ['Y At 50% =', '', d[3], d[4]],
    ['X Scale', '=', d[5], d[6]], ['X At 0%', '=', d[7], d[8]], ['X Size', '=', d[9], d[10]],
    ['Maximum =', '', d[11], d[12]], ['Minimum', '=', d[13], d[14]]
  ];
  const ry = [10, 21, 32, 48, 59, 75, 86, 96, 112, 123];
  rows.forEach(function (r, k) {
    const y = y0 + ry[k] * sy;
    gfx.push(txt(r[0], x0 + 4 * sx, y, 'left', fs, SCOPE_FONT, 'normal', '#2a2a2a'));
    if (r[1]) gfx.push(txt(r[1], x0 + 40 * sx, y, 'left', fs, SCOPE_FONT, 'normal', '#2a2a2a'));
    if (r.length > 2) {
      const v = r[2];
      if (v.length <= 3) gfx.push(txt(v, x0 + 64 * sx, y, 'right', fs, SCOPE_FONT, 'normal', '#2a2a2a'));
      else if (/ V$/.test(v)) gfx.push(txt(v, x0 + 58 * sx, y, 'left', fs, SCOPE_FONT, 'normal', '#2a2a2a'));
      else gfx.push(txt(v, x0 + 51 * sx, y, 'left', fs, SCOPE_FONT, 'normal', '#2a2a2a'));
      if (r[3]) gfx.push(txt(r[3], x0 + 82 * sx, y, 'left', fs, SCOPE_FONT, 'normal', '#2a2a2a'));
    }
  });
}

function addSpectrum(s) {
  const [L, T, R, B] = s.grid;
  const g = grids.length;
  grids.push({ left: L, top: T, width: R - L, height: B - T, show: true, backgroundColor: '#fff',
    borderColor: '#6e6e6e', borderWidth: 1.5, outerBoundsMode: 'none' });
  const xi = xAxes.length, yi = yAxes.length;
  const hidden = { axisLine: { show: false }, axisTick: { show: false }, axisLabel: { show: false },
    splitLine: { show: true, lineStyle: { color: '#c6c6c6', width: 1.5 } } };
  xAxes.push(Object.assign({ type: 'value', gridIndex: g, min: s.xMin, max: s.xMax, interval: 0.02 }, hidden));
  yAxes.push(Object.assign({ type: 'value', gridIndex: g, min: s.yMin, max: s.yMax, interval: 10 }, hidden));
  series.push(
    { type: 'line', xAxisIndex: xi, yAxisIndex: yi, data: s.trace, showSymbol: false, symbol: 'none', silent: true, z: 5,
      lineStyle: { color: '#8a8a8a', width: 1.5 } },
    { type: 'scatter', xAxisIndex: xi, yAxisIndex: yi, data: s.peak, symbol: 'diamond', symbolSize: 9, silent: true, z: 6,
      itemStyle: { color: '#111' } }
  );
  s.texts.forEach(function (t) {
    gfx.push(txt(t[0], t[1], t[2], t[3], t[4], MONO_FONT, t[5] || 'normal', '#161616'));
  });
  // soft-key menu on the right
  const m = s.menu;
  m.top.forEach(function (y) {
    gfx.push(line(m.x0, y - 1.5, m.x1, y - 1.5, '#7a7a7a', 1.5));
    gfx.push(line(m.x0, y + 1.5, m.x1, y + 1.5, '#7a7a7a', 1.5));
  });
  m.seps.forEach(function (y) { gfx.push(line(m.x0, y, m.x1, y, '#cfcfcf', 2)); });
  gfx.push(rect(m.sel[0], m.sel[1], m.sel[2], m.sel[3], 'rgba(0,0,0,0)', '#9a9a9a', 2, 40));
  // frequency counter box
  const c = s.counter;
  gfx.push(rect(c[0], c[1], c[2], c[4], '#d6d6d6', null, 0, 30));
  gfx.push(rect(c[0], c[1], c[2], c[3], 'rgba(0,0,0,0)', '#111', 1.5, 40));
}

// page frame and yellow title bars
headers.forEach(function (h) {
  const c = h[1], r = h[2];
  const y0 = ROWS[r];
  gfx.push(rect(COLS[c], y0, COLS[c + 1], y0 + HEAD_H, HEAD_FILL, LINE_C, 1.5, -5));
  gfx.push(txt(h[0], h[3], y0 + HEAD_H / 2 + 1, 'left', 27, '"Open Sans", "Noto Sans", sans-serif', '600', '#1c1c1c', { scaleX: 0.84 }));
});
gfx.push(line(COLS[0], ROWS[0], COLS[0], ROWS[6], LINE_C, 2, 60));
gfx.push(line(COLS[1], ROWS[0], COLS[1], ROWS[6], LINE_C, 2, 60));
gfx.push(line(COLS[2], ROWS[0], COLS[2], ROWS[5], LINE_C, 2, 60));
for (let r = 0; r <= 5; r++) gfx.push(line(COLS[0], ROWS[r], COLS[3], ROWS[r], LINE_C, 2, 60));

scopes.forEach(addScope);
spectra.forEach(addSpectrum);

const chart = echarts.init(document.getElementById('chart'), null, { renderer: 'canvas' });
chart.setOption({
  animation: false,
  backgroundColor: '#fff',
  grid: grids,
  xAxis: xAxes,
  yAxis: yAxes,
  series: series,
  graphic: { elements: gfx }
});
</script>
</body>
</html>
